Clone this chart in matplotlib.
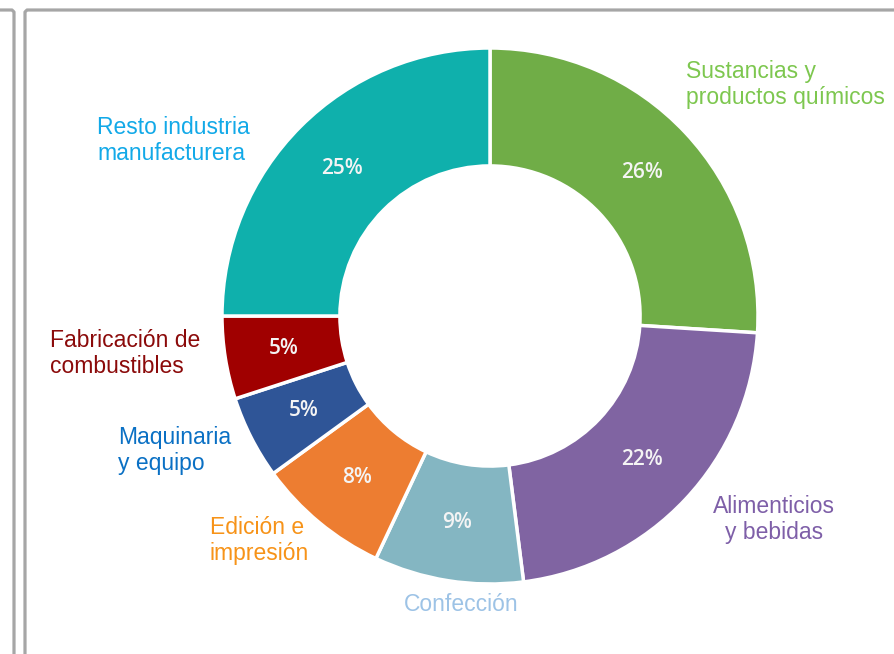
import matplotlib
matplotlib.use("Agg")
import matplotlib.pyplot as plt
from matplotlib.lines import Line2D

categories = ["Sustancias y\nproductos químicos", "Alimenticios\ny bebidas", "Confección",
              "Edición e\nimpresión", "Maquinaria\ny equipo", "Fabricación de\ncombustibles",
              "Resto industria\nmanufacturera"]
values = [26, 22, 9, 8, 5, 5, 25]
pct_labels = ["26%", "22%", "9%", "8%", "5%", "5%", "25%"]

wedge_colors = ["#70AD47", "#8064A2", "#84B6C2", "#ED7D31", "#2F5597", "#A00000", "#0FB0AC"]
label_colors = ["#7DC74F", "#7E5FA8", "#9DC3E6", "#F79318", "#0A70C4", "#8B0A0A", "#12A9E8"]

W, H = 895, 654
fig = plt.figure(figsize=(W / 100, H / 100), dpi=100)
ax = fig.add_axes([0, 0, 1, 1])

cx, cy, R = 490, H - 316, 268
wedges, _, autotexts = ax.pie(
    values, colors=wedge_colors, startangle=90, counterclock=False,
    center=(cx, cy), radius=R, frame=True,
    autopct=lambda p: "", pctdistance=0.78,
    wedgeprops=dict(width=R * 0.44, edgecolor="white", linewidth=2.5),
)
ax.set_xlim(0, W)
ax.set_ylim(0, H)
ax.set_aspect("equal")
ax.axis("off")

for t, lab in zip(autotexts, pct_labels):
    t.set_text(lab)
    t.set_color("#F4F4F4")
    t.set_fontsize(15)
    t.set_fontweight("semibold")
    t.set_family("Open Sans")

# outer label positions (pixel coords, top anchors)
pos = [(686, 60, "left"), (774, 495, "center"), (461, 593, "center"),
       (210, 516, "left"), (118, 426, "left"), (50, 329, "left"), (97, 116, "left")]
for cat, col, (x, y, ha) in zip(categories, label_colors, pos):
    ax.text(x, H - y, cat, color=col, fontsize=16.5, family="Liberation Sans",
            ha=ha, va="top", linespacing=1.18, multialignment=ha)

# frames
fc = "#A6A6A6"
lw = 2.3
ax.add_line(Line2D([0, 12, 14, 14], [H - 10, H - 10, H - 12, 0], color=fc, lw=lw, solid_joinstyle="round"))
ax.add_line(Line2D([25, 25, 27, W], [0, H - 12, H - 10, H - 10], color=fc, lw=lw, solid_joinstyle="round"))

fig.savefig("out.png", dpi=100)
